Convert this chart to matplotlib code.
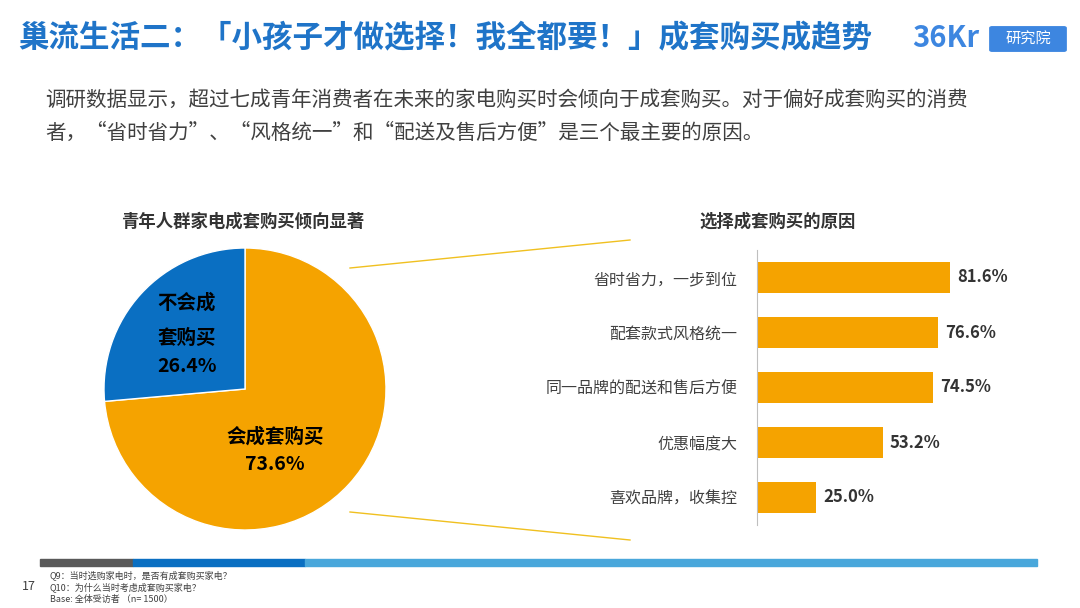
import matplotlib
matplotlib.use("Agg")
import matplotlib.pyplot as plt
from matplotlib.patches import Rectangle, FancyBboxPatch

plt.rcParams["font.family"] = ["Noto Sans CJK SC"]

pie_labels = ["会成套购买", "不会成套购买"]
pie_values = [73.6, 26.4]
reasons = ["省时省力，一步到位", "配套款式风格统一", "同一品牌的配送和售后方便", "优惠幅度大", "喜欢品牌，收集控"]
reason_values = [81.6, 76.6, 74.5, 53.2, 25.0]

W, H = 1080, 608
fig = plt.figure(figsize=(10.8, 6.08), dpi=100)
ORANGE = "#F5A300"
BLUE = "#0A6FC2"
TBLUE = "#1F74C8"

def fx(x): return x / W
def fy(y): return 1 - y / H

fig.text(fx(18), fy(38), "巢流生活二：「小孩子才做选择！我全都要！」成套购买成趋势",
         fontsize=22, fontweight="bold", color=TBLUE, va="center")
# logo
fig.text(fx(912), fy(38), "36Kr", fontsize=21, fontweight="bold", color="#3D86E0", va="center")
fig.patches.append(FancyBboxPatch((fx(992), fy(50)), fx(72), 22 / H, boxstyle="round,pad=0.002",
                                  transform=fig.transFigure, color="#3D86E0"))
fig.text(fx(1028), fy(39), "研究院", fontsize=11, color="white", va="center", ha="center")

fig.text(fx(45), fy(100), "调研数据显示，超过七成青年消费者在未来的家电购买时会倾向于成套购买。对于偏好成套购买的消费",
         fontsize=14.8, color="#404040", va="center")
fig.text(fx(45), fy(133), "者，“省时省力”、“风格统一”和“配送及售后方便”是三个最主要的原因。",
         fontsize=14.8, color="#404040", va="center")

fig.text(fx(243), fy(222), "青年人群家电成套购买倾向显著", fontsize=12.5, fontweight="bold",
         color="#333333", ha="center", va="center")
fig.text(fx(778), fy(222), "选择成套购买的原因", fontsize=12.5, fontweight="bold",
         color="#333333", ha="center", va="center")

# pie
r = 141
axp = fig.add_axes([fx(245 - r), fy(389 + r), 2 * r / W, 2 * r / H])
axp.pie(pie_values, colors=[ORANGE, BLUE], startangle=90, counterclock=False,
        wedgeprops=dict(linewidth=1, edgecolor="white"))
axp.set_xlim(-1, 1)
axp.set_ylim(-1, 1)
axp.set_aspect("equal")
fig.text(fx(275), fy(437), pie_labels[0], fontsize=14, fontweight="bold", color="black", ha="center", va="center")
fig.text(fx(275), fy(465), f"{pie_values[0]}%", fontsize=14, fontweight="bold", color="black", ha="center", va="center")
fig.text(fx(187), fy(303), "不会成", fontsize=14, fontweight="bold", color="black", ha="center", va="center")
fig.text(fx(187), fy(338), "套购买", fontsize=14, fontweight="bold", color="black", ha="center", va="center")
fig.text(fx(187), fy(367), f"{pie_values[1]}%", fontsize=14, fontweight="bold", color="black", ha="center", va="center")

# connector lines
fig.lines.append(plt.Line2D([fx(350), fx(630)], [fy(268), fy(240)], transform=fig.transFigure, color="#F0C020", lw=1))
fig.lines.append(plt.Line2D([fx(350), fx(630)], [fy(512), fy(540)], transform=fig.transFigure, color="#F0C020", lw=1))

# bars
scale = 193 / 81.6
axb = fig.add_axes([fx(757), fy(525), 300 / W, 275 / H])
ys = list(range(len(reasons)))
axb.barh(ys, reason_values, height=0.56, color=ORANGE)
axb.set_xlim(0, 300 / scale)
axb.set_ylim(len(reasons) - 0.5, -0.5)
for y, v in zip(ys, reason_values):
    axb.text(v + 3, y, f"{v:.1f}%", va="center", fontsize=12, fontweight="bold", color="#333333")
axb.set_yticks(ys)
axb.set_yticklabels(reasons, fontsize=11.5, color="#404040")
axb.tick_params(axis="y", length=0, pad=14)
axb.set_xticks([])
for s in ["top", "right", "bottom"]:
    axb.spines[s].set_visible(False)
axb.spines["left"].set_color("#BFBFBF")
axb.patch.set_alpha(0)

# bottom band
for x0, x1, c in [(40, 133, "#595959"), (133, 305, "#0A6FC2"), (305, 1037, "#49A7DB")]:
    fig.patches.append(Rectangle((fx(x0), fy(566)), (x1 - x0) / W, 7 / H, transform=fig.transFigure, color=c))
fig.text(fx(22), fy(586), "17", fontsize=9, color="#404040", va="center")
fig.text(fx(50), fy(575), "Q9：当时选购家电时，是否有成套购买家电？", fontsize=6.5, color="#404040", va="center")
fig.text(fx(50), fy(587), "Q10：为什么当时考虑成套购买家电？", fontsize=6.5, color="#404040", va="center")
fig.text(fx(50), fy(599), "Base: 全体受访者 （n= 1500）", fontsize=6.5, color="#404040", va="center")

fig.savefig("out.png", dpi=100)
